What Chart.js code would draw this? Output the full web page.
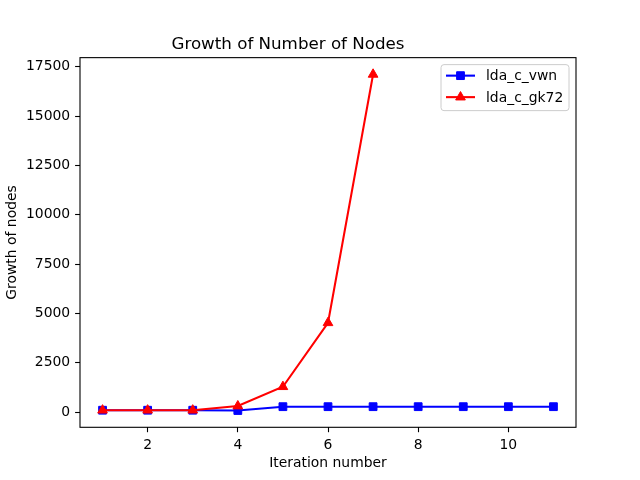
<!DOCTYPE html>
<html lang="en">

<head>
  <meta charset="UTF-8" />
  <title>Growth of Number of Nodes</title>
  <script src="https://cdn.jsdelivr.net/npm/chart.js"></script>
  <style>
    html, body {
      margin: 0;
      padding: 0;
      background: white;
    }

    .wrap {
      width: 640px;
      height: 480px;
    }
  </style>
</head>

<body>
  <div class="wrap">
    <canvas id="nodesChart" width="640" height="480"></canvas>
  </div>

  <script>
    // values
    const iterations = [1, 2, 3, 4, 5, 6, 7, 8, 9, 10, 11];
    const vwnNodes = [90, 90, 90, 77, 270, 270, 270, 270, 270, 270, 270];
    const gk72Iterations = [1, 2, 3, 4, 5, 6, 7];
    const gk72Nodes = [90, 90, 90, 300, 1280, 4520, 17110];

    const xTicks = [2, 4, 6, 8, 10];
    const yTicks = [0, 2500, 5000, 7500, 10000, 12500, 15000, 17500];

    const seriesNames = ["lda_c_vwn", "lda_c_gk72"];
    const seriesColors = ["#0000ff", "#ff0000"];
    const seriesMarkers = ["rect", "triangle"];

    const font = "'DejaVu Sans', sans-serif";

    function toPoints(xs, ys) {
      return xs.map((x, i) => ({ x: x, y: ys[i] }));
    }

    // black box round the plot area, like matplotlib spines
    const framePlugin = {
      id: "frame",
      afterDatasetsDraw(chart) {
        const a = chart.chartArea;
        const ctx = chart.ctx;
        ctx.save();
        ctx.strokeStyle = "#000";
        ctx.lineWidth = 1.1;
        ctx.strokeRect(a.left, a.top, a.right - a.left, a.bottom - a.top);
        ctx.restore();
      }
    };

    // legend drawn inside the upper right corner
    const boxLegend = {
      id: "boxLegend",
      afterDraw(chart) {
        const ctx = chart.ctx;
        const a = chart.chartArea;
        const w = 128, h = 46;
        const x0 = a.right - 7 - w, y0 = a.top + 7;
        ctx.save();
        ctx.fillStyle = "rgba(255,255,255,0.8)";
        ctx.strokeStyle = "#cccccc";
        ctx.lineWidth = 1;
        ctx.beginPath();
        ctx.roundRect(x0, y0, w, h, 3);
        ctx.fill();
        ctx.stroke();

        seriesNames.forEach((name, i) => {
          const y = y0 + 11 + i * 21.5;
          ctx.strokeStyle = seriesColors[i];
          ctx.lineWidth = 2.1;
          ctx.beginPath();
          ctx.moveTo(x0 + 5, y);
          ctx.lineTo(x0 + 34, y);
          ctx.stroke();
          ctx.fillStyle = seriesColors[i];
          ctx.lineWidth = 1;
          Chart.helpers.drawPoint(ctx, {
            pointStyle: seriesMarkers[i],
            radius: i === 0 ? 5.5 : 5.6,
            borderWidth: 1
          }, x0 + 19.5, y);
          ctx.fillStyle = "#000";
          ctx.font = "13.9px " + font;
          ctx.textBaseline = "middle";
          ctx.textAlign = "left";
          ctx.fillText(name, x0 + 45, y + 1);
        });
        ctx.restore();
      }
    };

    const datasets = [
      {
        label: seriesNames[0],
        data: toPoints(iterations, vwnNodes),
        borderColor: seriesColors[0],
        backgroundColor: seriesColors[0],
        borderWidth: 2.1,
        pointStyle: seriesMarkers[0],
        pointRadius: 5.5,
        pointBorderWidth: 1,
        tension: 0,
        order: 1
      },
      {
        label: seriesNames[1],
        data: toPoints(gk72Iterations, gk72Nodes),
        borderColor: seriesColors[1],
        backgroundColor: seriesColors[1],
        borderWidth: 2.1,
        pointStyle: seriesMarkers[1],
        pointRadius: 5.6,
        pointBorderWidth: 1,
        tension: 0,
        order: 0
      }
    ];

    const ctx = document.getElementById("nodesChart").getContext("2d");
    new Chart(ctx, {
      type: "line",
      data: { datasets: datasets },
      plugins: [framePlugin, boxLegend],
      options: {
        responsive: false,
        animation: false,
        devicePixelRatio: 1,
        layout: {
          padding: { left: 0, right: 64, top: 0, bottom: 0 }
        },
        plugins: {
          legend: { display: false },
          tooltip: { enabled: false },
          title: {
            display: true,
            text: "Growth of Number of Nodes",
            color: "#000",
            font: { family: font, size: 16.7, weight: "normal" },
            padding: { top: 35, bottom: 2.6 }
          }
        },
        scales: {
          x: {
            type: "linear",
            min: 0.5,
            max: 11.5,
            afterBuildTicks: s => { s.ticks = xTicks.map(v => ({ value: v })); },
            afterFit: s => { s.height = 52.7; },
            grid: {
              drawOnChartArea: false,
              drawTicks: true,
              tickLength: 4.9,
              tickWidth: 1.1,
              tickColor: "#000"
            },
            border: { display: false },
            ticks: {
              color: "#000",
              padding: 5,
              maxRotation: 0,
              font: { family: font, size: 13.9 }
            },
            title: {
              display: true,
              text: "Iteration number",
              color: "#000",
              font: { family: font, size: 13.9 },
              padding: { top: 8.5, bottom: 8.5 }
            }
          },
          y: {
            type: "linear",
            min: -775,
            max: 17960,
            afterBuildTicks: s => { s.ticks = yTicks.map(v => ({ value: v })); },
            afterFit: s => { s.width = 80; },
            grid: {
              drawOnChartArea: false,
              drawTicks: true,
              tickLength: 4.9,
              tickWidth: 1.1,
              tickColor: "#000"
            },
            border: { display: false },
            ticks: {
              color: "#000",
              padding: 4.9,
              font: { family: font, size: 13.9 },
              callback: v => String(v)
            },
            title: {
              display: true,
              text: "Growth of nodes",
              color: "#000",
              font: { family: font, size: 13.9 },
              padding: { top: 3.7, bottom: 3.7 }
            }
          }
        }
      }
    });
  </script>
</body>

</html>
